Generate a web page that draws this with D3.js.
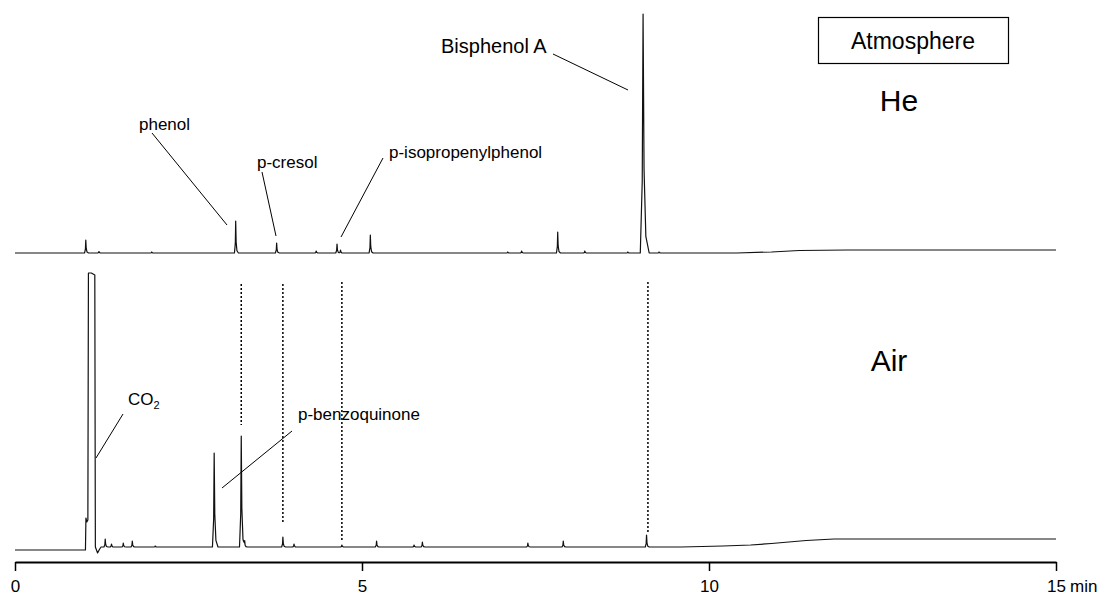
<!DOCTYPE html>
<html><head><meta charset="utf-8">
<script src="https://cdn.jsdelivr.net/npm/d3@7"></script>
<style>
body{margin:0;background:#fff}
svg{display:block}
text{font-family:"Liberation Sans",Arial,Helvetica,sans-serif;fill:#000}
</style>
</head><body>
<svg id="chart" width="1112" height="595"></svg>
<script>
// ---------------- data ----------------
const xTicks = [0, 5, 10, 15];
const xUnit = "min";

// He atmosphere trace: baseline knots [time(min), signal] and peaks [time, height, width]
const heBaseline = [[0,0],[10.4,0],[10.9,1],[11.3,2.5],[12.0,3],[15,3]];
const hePeaks = [
  [1.02,13],[1.21,1.5],[1.97,1],[3.18,32],[3.77,10],[4.34,2],[4.64,9],[4.69,3],
  [5.12,18],[7.10,1],[7.30,2],[7.82,21],[8.21,2],[8.83,1],[9.05,239,0.04],[9.28,1]
];

// Air atmosphere trace
const airBaseline = [[0,0],[1.0,0],[1.2,3],[9.6,3],[10.2,4],[10.6,5],[10.9,6.5],[11.4,9.5],[11.8,11],[15,11]];
const airPeaks = [
  [1.30,8],[1.39,3],[1.56,4],[1.69,6],[2.02,1],[2.87,94,0.025],[3.26,111,0.025],[3.31,5],
  [3.86,10],[4.02,3],[4.71,2],[5.21,6],[5.75,2],[5.87,5],[7.39,4],[7.90,6],[9.10,12]
];
// saturated CO2 peak (absolute signal)
const co2Profile = [[1.015,0],[1.022,32],[1.035,28],[1.05,30],[1.058,277],[1.10,277],[1.15,275],[1.158,3],[1.19,-3],[1.22,1],[1.24,3]];

// dotted reference lines in the Air trace: [time, top signal, bottom signal]
const markerTimes = [3.26, 3.86, 4.71, 9.12];
const markerTops = [266, 266, 268, 268];
const markerBottoms = [125, 28, 10, 17];

const panelNames = ["He", "Air"];
const boxTitle = "Atmosphere";

// ---------------- layout ----------------
const svg = d3.select("#chart");
const x = d3.scaleLinear().domain([0, 15]).range([15, 1056]);
const yHe = d3.scaleLinear().domain([0, 240]).range([253, 13]);
const yAir = d3.scaleLinear().domain([0, 280]).range([550, 270]);

const shapeK = [-1, -0.3, 0, 0.35, 1, 2.2];
const shapeV = [0, 0.3, 1, 0.35, 0.07, 0];

function buildTrace(baseline, peaks, abs) {
  const base = d3.scaleLinear().domain(baseline.map(d => d[0])).range(baseline.map(d => d[1]));
  const shapes = peaks.map(([t, h, w]) => {
    const ww = w || 0.018;
    const dom = shapeK.map(k => t + k * ww);
    return { h, dom, s: d3.scaleLinear().domain(dom).range(shapeV).clamp(true) };
  });
  let ts = baseline.map(d => d[0]);
  shapes.forEach(s => ts.push(...s.dom));
  let lo = abs ? abs[0][0] : Infinity, hi = abs ? abs[abs.length - 1][0] : -Infinity;
  ts = ts.filter(t => t >= 0 && t <= 15 && !(t >= lo && t <= hi));
  let pts = ts.map(t => [t, base(t) + d3.sum(shapes, s => s.h * s.s(t))]);
  if (abs) pts = pts.concat(abs);
  pts.sort((a, b) => a[0] - b[0]);
  return pts;
}

const hePts = buildTrace(heBaseline, hePeaks, null);
const airPts = buildTrace(airBaseline, airPeaks, co2Profile);

svg.append("path")
  .attr("d", d3.line().x(d => x(d[0])).y(d => yHe(d[1]))(hePts))
  .attr("fill", "none").attr("stroke", "#111").attr("stroke-width", 1.2)
  .attr("stroke-linejoin", "round");
svg.append("path")
  .attr("d", d3.line().x(d => x(d[0])).y(d => yAir(d[1]))(airPts))
  .attr("fill", "none").attr("stroke", "#111").attr("stroke-width", 1.2)
  .attr("stroke-linejoin", "round");

// dotted marker lines
svg.selectAll(".marker").data(markerTimes).join("line")
  .attr("x1", d => x(d)).attr("x2", d => x(d))
  .attr("y1", (d, i) => yAir(markerTops[i])).attr("y2", (d, i) => yAir(markerBottoms[i]))
  .attr("stroke", "#000").attr("stroke-width", 1.5).attr("stroke-dasharray", "2,2");

// axis
const axis = d3.axisBottom(x).tickValues(xTicks).tickSize(9).tickSizeOuter(0).tickPadding(9)
  .tickFormat(d3.format("d"));
const gAx = svg.append("g").attr("transform", "translate(0,562)").call(axis);
gAx.select(".domain").attr("stroke", "#000").attr("stroke-width", 2);
gAx.selectAll(".tick line").attr("stroke", "#000").attr("stroke-width", 1.5);
gAx.selectAll(".tick text").attr("font-size", 17).attr("font-family", "Liberation Sans, Arial, sans-serif").attr("fill", "#000");
svg.append("text").attr("x", x(15) + 14).attr("y", 592).attr("font-size", 17).text(xUnit);

// annotations (pixel layout)
const ann = [
  { text: "Bisphenol A", tx: 441, ty: 53, fs: 20, l: [553, 54, 628, 90] },
  { text: "phenol", tx: 139, ty: 130, fs: 17, l: [152, 133, 227, 225] },
  { text: "p-cresol", tx: 257, ty: 168, fs: 17, l: [262, 172, 276, 236] },
  { text: "p-isopropenylphenol", tx: 389, ty: 158, fs: 17, l: [383, 158, 341, 237] },
  { text: "p-benzoquinone", tx: 298, ty: 420, fs: 17, l: [292, 431, 222, 488] }
];
ann.forEach(a => {
  svg.append("text").attr("x", a.tx).attr("y", a.ty).attr("font-size", a.fs).text(a.text);
  svg.append("line").attr("x1", a.l[0]).attr("y1", a.l[1]).attr("x2", a.l[2]).attr("y2", a.l[3])
    .attr("stroke", "#000").attr("stroke-width", 1);
});
// CO2 with subscript
const co2 = svg.append("text").attr("x", 128).attr("y", 405).attr("font-size", 17);
co2.append("tspan").text("CO");
co2.append("tspan").attr("font-size", 11).attr("dy", 4).text("2");
svg.append("line").attr("x1", 123).attr("y1", 414).attr("x2", 96).attr("y2", 458)
  .attr("stroke", "#000").attr("stroke-width", 1);

// panel names
svg.append("text").attr("x", 899).attr("y", 111).attr("font-size", 30).attr("text-anchor", "middle").text(panelNames[0]);
svg.append("text").attr("x", 889).attr("y", 371).attr("font-size", 30).attr("text-anchor", "middle").text(panelNames[1]);

// title box
svg.append("rect").attr("x", 818.5).attr("y", 17.5).attr("width", 190).attr("height", 46)
  .attr("fill", "none").attr("stroke", "#000").attr("stroke-width", 1.2);
svg.append("text").attr("x", 913).attr("y", 49).attr("font-size", 23).attr("text-anchor", "middle").text(boxTitle);
</script>
</body></html>
